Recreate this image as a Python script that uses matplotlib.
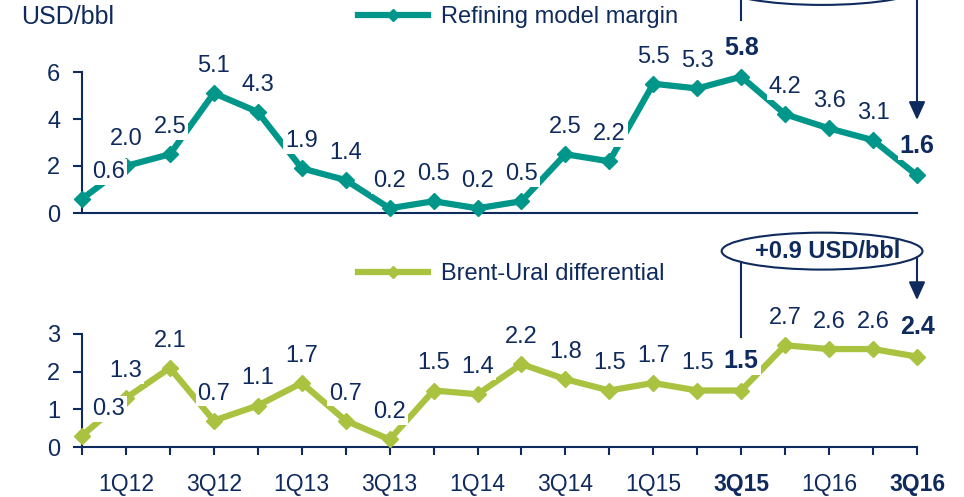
import numpy as np
import matplotlib
matplotlib.use("Agg")
import matplotlib.pyplot as plt
from matplotlib.patches import Ellipse
from matplotlib.lines import Line2D

# ---------------- data ----------------
quarters = ['4Q11', '1Q12', '2Q12', '3Q12', '4Q12', '1Q13', '2Q13', '3Q13', '4Q13',
            '1Q14', '2Q14', '3Q14', '4Q14', '1Q15', '2Q15', '3Q15', '4Q15',
            '1Q16', '2Q16', '3Q16']
margin = [0.6, 2.0, 2.5, 5.1, 4.3, 1.9, 1.4, 0.2, 0.5, 0.2, 0.5, 2.5, 2.2,
          5.5, 5.3, 5.8, 4.2, 3.6, 3.1, 1.6]
differential = [0.3, 1.3, 2.1, 0.7, 1.1, 1.7, 0.7, 0.2, 1.5, 1.4, 2.2, 1.8, 1.5,
                1.7, 1.5, 1.5, 2.7, 2.6, 2.6, 2.4]
shown_ticks = ['1Q12', '3Q12', '1Q13', '3Q13', '1Q14', '3Q14', '1Q15', '3Q15', '1Q16', '3Q16']
bold_ticks = ['3Q15', '3Q16']
margin_bold = [15, 19]
diff_bold = [15, 19]
margin_name = 'Refining model margin'
diff_name = 'Brent-Ural differential'
callout_text = '+0.9 USD/bbl'
unit = 'USD/bbl'

plt.rcParams['font.family'] = ['Liberation Sans', 'DejaVu Sans']
NAVY = '#0F2A5C'
TEAL = '#00968A'
LIME = '#A9C23F'

W, H = 964, 497
fig = plt.figure(figsize=(W / 100, H / 100), dpi=100)
ax1 = fig.add_axes([82 / W, 1 - 213 / H, 835 / W, 141 / H])
ax2 = fig.add_axes([82 / W, 1 - 447 / H, 835 / W, 113 / H])

x = np.arange(len(quarters))

for ax, vals, col, ylim, yt in [(ax1, margin, TEAL, (0, 6), [0, 2, 4, 6]),
                                 (ax2, differential, LIME, (0, 3), [0, 1, 2, 3])]:
    ax.plot(x, vals, color=col, lw=4.5, marker='D', ms=8, clip_on=False, zorder=3,
            solid_joinstyle='miter')
    ax.set_xlim(0, len(quarters) - 1)
    ax.set_ylim(*ylim)
    ax.set_yticks(yt)
    for s in ['top', 'right']:
        ax.spines[s].set_visible(False)
    for s in ['left', 'bottom']:
        ax.spines[s].set_color(NAVY)
        ax.spines[s].set_linewidth(1.5)
        ax.spines[s].set_zorder(2)
    ax.tick_params(axis='y', colors=NAVY, labelsize=17, length=6.5, width=1.5, pad=9)
    ax.patch.set_alpha(0)

ax1.tick_params(axis='x', bottom=False, labelbottom=False)
ax2.set_xticks(x)
ax2.set_xticklabels([q if q in shown_ticks else '' for q in quarters])
ax2.tick_params(axis='x', colors=NAVY, labelsize=16.5, length=6, width=1.5, pad=13)
for lab in ax2.get_xticklabels():
    if lab.get_text() in bold_ticks:
        lab.set_fontweight('bold')


def label_points(ax, vals, bold_idx):
    for i, v in enumerate(vals):
        dx = 19 if i == 0 else 0
        b = i in bold_idx
        ax.annotate(f'{v:.1f}', (i, v), xytext=(dx, 21 if b else 19.5),
                    textcoords='offset points', ha='center', va='center',
                    fontsize=18 if b else 17, fontweight='bold' if b else 'normal',
                    color=NAVY, zorder=5, annotation_clip=False,
                    bbox=dict(boxstyle='square,pad=0.08', fc='white', ec='none'))


label_points(ax1, margin, margin_bold)
label_points(ax2, differential, diff_bold)

# legends
for ax, col, name, ypx in [(ax1, TEAL, margin_name, 17), (ax2, LIME, diff_name, 274)]:
    h = Line2D([], [], color=col, lw=4.5, marker='D', ms=6)
    leg = ax.legend([h], [name], loc='center left',
                    bbox_to_anchor=(358 / W, 1 - ypx / H), bbox_transform=fig.transFigure,
                    frameon=False, fontsize=17, handlelength=2.95, handletextpad=0.55,
                    borderpad=0, borderaxespad=0, numpoints=1, labelcolor=NAVY)

fig.text(21 / W, 1 - 17 / H, unit, fontsize=18, color=NAVY, va='center', ha='left')


# callouts
def callout(ax, cx, cy, w, h, i_left, i_right, left_end, tip, text=None):
    ax.add_patch(Ellipse((cx, cy), w, h, fill=False, ec=NAVY, lw=1.5, clip_on=False, zorder=6))

    def ybot(xx):
        return cy - (h / 2) * np.sqrt(max(0.0, 1 - ((xx - cx) / (w / 2)) ** 2))

    ax.plot([i_left, i_left], [ybot(i_left), left_end], color=NAVY, lw=1.5,
            clip_on=False, zorder=6)
    ax.annotate('', xy=(i_right, tip), xytext=(i_right, ybot(i_right)),
                arrowprops=dict(arrowstyle='-|>,head_length=0.55,head_width=0.25',
                                color=NAVY, lw=1.5, mutation_scale=20,
                                shrinkA=0, shrinkB=0),
                annotation_clip=False, zorder=6)
    if text:
        ax.text(cx + 0.13, cy, text, ha='center', va='center', fontsize=17,
                fontweight='bold', color=NAVY, zorder=7)


callout(ax1, 16.84, 9.64, 4.57, 1.57, 15, 19, margin[15] + 2.4, margin[19] + 2.36)
callout(ax2, 16.84, 5.2, 4.57, 0.98, 15, 19, differential[15] + 1.42,
        differential[19] + 1.5, callout_text)

fig.savefig('out.png', dpi=100)
